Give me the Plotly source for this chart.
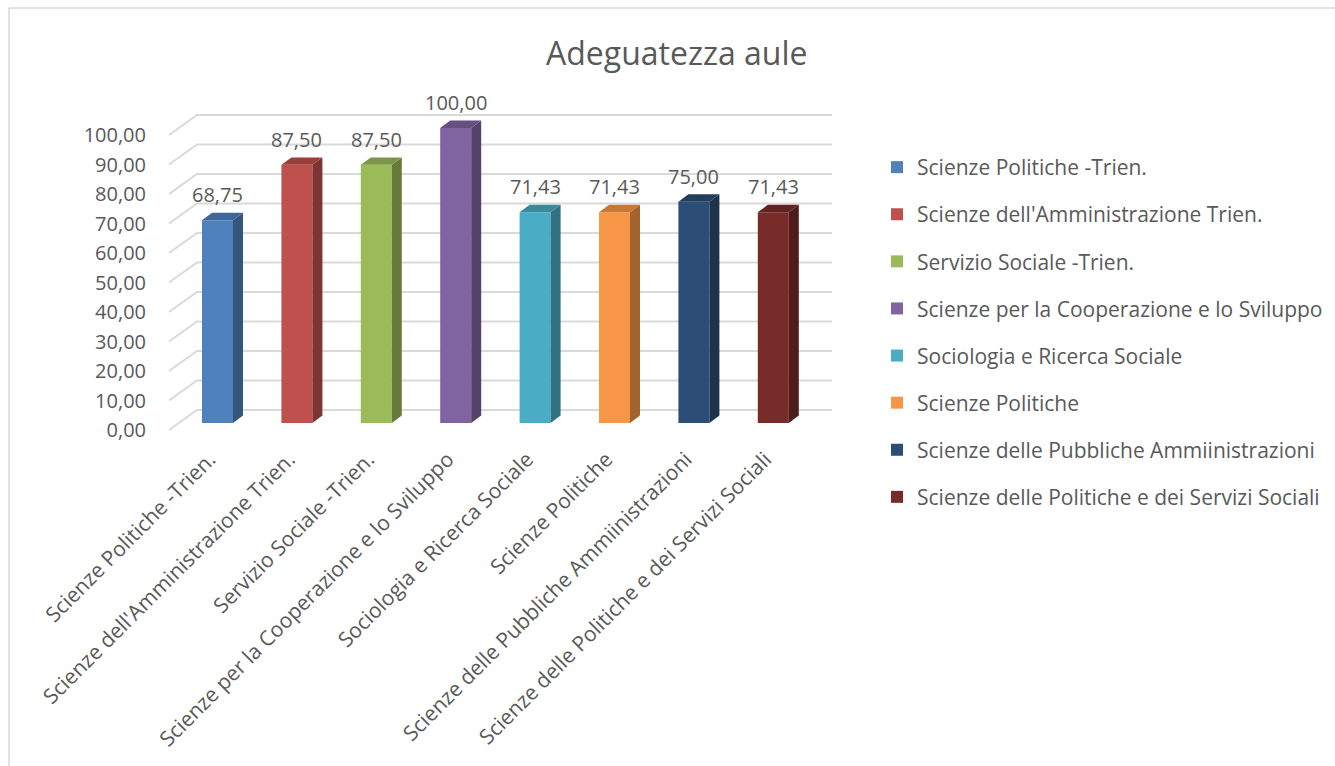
import plotly.graph_objects as go

# ---------------- data ----------------
categories = [
    "Scienze Politiche -Trien.",
    "Scienze dell'Amministrazione Trien.",
    "Servizio Sociale -Trien.",
    "Scienze per la Cooperazione e lo Sviluppo",
    "Sociologia e Ricerca Sociale",
    "Scienze Politiche",
    "Scienze delle Pubbliche Ammiinistrazioni",
    "Scienze delle Politiche e dei Servizi Sociali",
]
values = [68.75, 87.50, 87.50, 100.00, 71.43, 71.43, 75.00, 71.43]
colors = ["#4F81BD", "#C0504D", "#9BBB59", "#8064A2",
          "#4BACC6", "#F79646", "#2C4D75", "#772C2A"]
y_ticks = [0, 10, 20, 30, 40, 50, 60, 70, 80, 90, 100]
title_text = "Adeguatezza aule"

# ---------------- geometry (pixel layout) ----------------
W, H = 1335, 766
L, R, T, B = 165, 840, 100, 440          # plot area in pixels
X0PX, XSTEP = 217.5, 79.4                # category 0 centre, px per category
Y0PX, YSTEP = 430.0, 2.95                # front plane zero, px per unit
px_x = lambda px: (px - X0PX) / XSTEP     # pixel -> x data
dx = lambda px: px / XSTEP
dy = lambda px: px / YSTEP

x_range = [px_x(L), px_x(R)]
y_range = [(Y0PX - B) / YSTEP, (Y0PX - T) / YSTEP]

bar_w = dx(31)
base = dy(7)                  # bars sit slightly behind the front plane
depth_x, depth_y = dx(10), dy(7.5)   # bar 3-D depth
wall_x, wall_y = dx(28), dy(20)      # chart wall depth
wall_left = px_x(169)
wall_right = px_x(832)

FONT = "Open Sans"
TXT = "#595959"


def shade(hexc, f):
    h = hexc.lstrip("#")
    r, g, b = (int(h[i:i + 2], 16) for i in (0, 2, 4))
    return "#%02x%02x%02x" % (int(r * f), int(g * f), int(b * f))


fig = go.Figure()
shapes = []
annotations = []

# gridlines: left side wall diagonal + back wall line
for t in y_ticks:
    shapes.append(dict(
        type="path", xref="x", yref="y", layer="below",
        path=f"M{wall_left},{t} L{wall_left + wall_x},{t + wall_y} L{wall_right},{t + wall_y}",
        line=dict(color="#D9D9D9", width=2),
    ))

for i, (cat, v, c) in enumerate(zip(categories, values, colors)):
    fig.add_trace(go.Bar(
        x=[i], y=[v], base=[base], width=bar_w, name=cat,
        marker=dict(color=c, line=dict(width=0)),
        legendgroup=f"g{i}", hoverinfo="skip",
    ))
    xr = i + bar_w / 2
    xl = i - bar_w / 2
    top = base + v
    # right side face
    shapes.append(dict(
        type="path", xref="x", yref="y", layer="above",
        path=(f"M{xr},{base} L{xr + depth_x},{base + depth_y} "
              f"L{xr + depth_x},{top + depth_y} L{xr},{top} Z"),
        fillcolor=shade(c, 0.66), line=dict(width=0),
    ))
    # top face
    shapes.append(dict(
        type="path", xref="x", yref="y", layer="above",
        path=(f"M{xl},{top} L{xl + depth_x},{top + depth_y} "
              f"L{xr + depth_x},{top + depth_y} L{xr},{top} Z"),
        fillcolor=shade(c, 0.8), line=dict(width=0),
    ))
    annotations.append(dict(
        x=i, y=top + depth_y, xref="x", yref="y", yshift=18,
        text=f"{v:.2f}".replace(".", ","), showarrow=False,
        xanchor="center", yanchor="middle",
        font=dict(family=FONT, size=20, color=TXT),
    ))

# chart outer border (left and top)
shapes.append(dict(type="line", xref="paper", yref="paper",
                   x0=(9 - L) / (R - L), x1=(9 - L) / (R - L),
                   y0=(B - 8) / (B - T), y1=(B - H - 20) / (B - T),
                   line=dict(color="#D9D9D9", width=1.5)))
shapes.append(dict(type="line", xref="paper", yref="paper",
                   x0=(9 - L) / (R - L), x1=(W + 20 - L) / (R - L),
                   y0=(B - 8) / (B - T), y1=(B - 8) / (B - T),
                   line=dict(color="#D9D9D9", width=1.5)))

# title
annotations.append(dict(
    x=(676 - L) / (R - L), y=(B - 52) / (B - T), xref="paper", yref="paper",
    text=title_text, showarrow=False, xanchor="center", yanchor="middle",
    font=dict(family=FONT, size=32, color=TXT),
))

fig.update_layout(
    width=W, height=H,
    margin=dict(l=L, r=W - R, t=T, b=H - B, pad=0),
    paper_bgcolor="white", plot_bgcolor="white",
    barmode="overlay",
    separators=",.",
    font=dict(family=FONT, size=21, color=TXT),
    showlegend=True,
    legend=dict(
        xref="container", yref="container",
        x=877 / W, y=1 - 147 / H, xanchor="left", yanchor="top",
        font=dict(family=FONT, size=21, color=TXT),
        tracegroupgap=16.8, itemwidth=30,
        bgcolor="rgba(0,0,0,0)",
    ),
    xaxis=dict(
        range=x_range, tickmode="array", tickvals=list(range(len(categories))),
        ticktext=categories, tickangle=-45, showgrid=False, zeroline=False,
        showline=False, ticks="", ticklabelshift=-8, ticklabelstandoff=2,
        tickfont=dict(family=FONT, size=21, color=TXT),
        fixedrange=True,
    ),
    yaxis=dict(
        range=y_range, tickmode="array", tickvals=y_ticks,
        tickformat=".2f", showgrid=False, zeroline=False, showline=False,
        ticks="", ticklabelstandoff=18,
        tickfont=dict(family=FONT, size=20, color=TXT), fixedrange=True,
    ),
    shapes=shapes,
    annotations=annotations,
)

fig.write_html("out.html", post_script="document.body.style.margin='0';",
               config={"displayModeBar": False})
